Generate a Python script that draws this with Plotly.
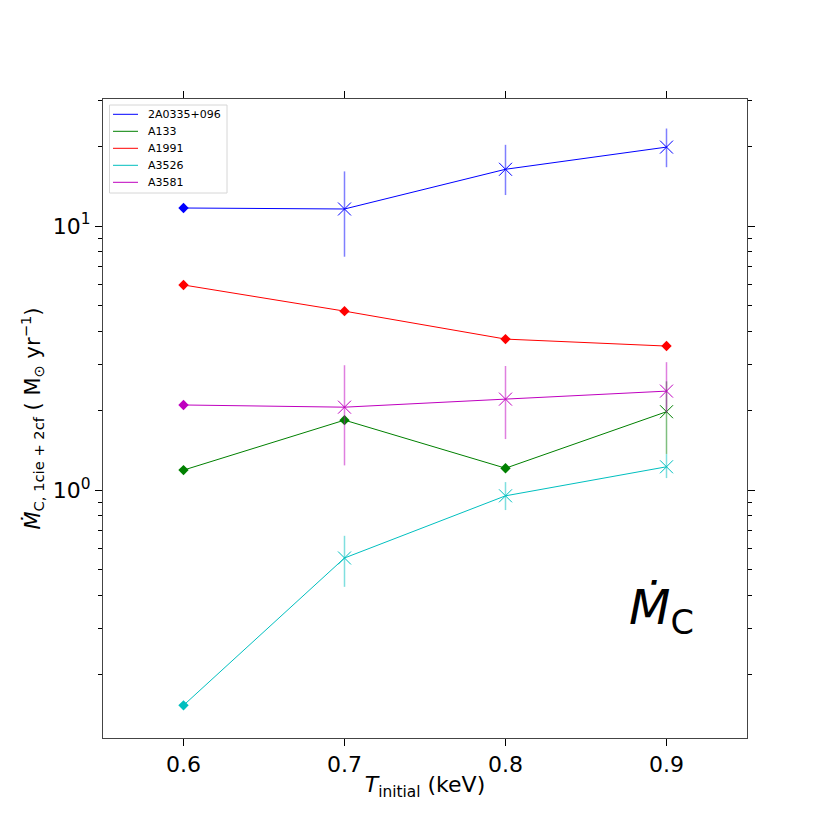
import plotly.graph_objects as go

# initial temperature (keV)
t_initial = [0.6, 0.7, 0.8, 0.9]

sources = ["2A0335+096", "A133", "A1991", "A3526", "A3581"]
colors = ["#0000ff", "#008000", "#ff0000", "#00bfbf", "#bf00bf"]
err_colors = ["rgba(0,0,255,0.5)", "rgba(0,128,0,0.5)", "rgba(255,0,0,0.5)",
              "rgba(0,191,191,0.5)", "rgba(191,0,191,0.5)"]

# mass deposition rates (Msun/yr) and errors (0 = no error bar)
mdot_2a0335 = [11.7, 11.6, 16.4, 19.9]
hi_2a0335 = [0, 4.5, 3.9, 3.5]
lo_2a0335 = [0, 3.95, 3.3, 3.2]

mdot_a133 = [1.19, 1.84, 1.21, 1.98]
hi_a133 = [0, 0, 0, 0.6]
lo_a133 = [0, 0, 0, 0.61]

mdot_a1991 = [5.98, 4.76, 3.73, 3.51]
hi_a1991 = [0, 0, 0, 0]
lo_a1991 = [0, 0, 0, 0]

mdot_a3526 = [0.153, 0.553, 0.951, 1.225]
hi_a3526 = [0, 0.118, 0.121, 0.144]
lo_a3526 = [0, 0.123, 0.111, 0.115]

mdot_a3581 = [2.10, 2.06, 2.21, 2.37]
hi_a3581 = [0, 0.91, 0.74, 0.68]
lo_a3581 = [0, 0.82, 0.65, 0.41]

values = [mdot_2a0335, mdot_a133, mdot_a1991, mdot_a3526, mdot_a3581]
err_hi = [hi_2a0335, hi_a133, hi_a1991, hi_a3526, hi_a3581]
err_lo = [lo_2a0335, lo_a133, lo_a1991, lo_a3526, lo_a3581]

fig = go.Figure()

for name, col, ecol, y, hi, lo in zip(sources, colors, err_colors, values, err_hi, err_lo):
    fig.add_trace(go.Scatter(
        x=t_initial, y=y, mode="lines", name=name, showlegend=False,
        line=dict(color=col, width=1),
    ))
    # points without error: filled diamonds
    xd = [x for x, h in zip(t_initial, hi) if h == 0]
    yd = [v for v, h in zip(y, hi) if h == 0]
    fig.add_trace(go.Scatter(
        x=xd, y=yd, mode="markers", showlegend=False,
        marker=dict(symbol="diamond", size=8, color=col, line=dict(width=0)),
    ))
    # points with error: x markers and error bars
    idx = [i for i, h in enumerate(hi) if h > 0]
    fig.add_trace(go.Scatter(
        x=[t_initial[i] for i in idx], y=[y[i] for i in idx], mode="markers", showlegend=False,
        marker=dict(symbol="x-thin", size=13, color=col, line=dict(color=col, width=1)),
        error_y=dict(type="data", symmetric=False,
                     array=[hi[i] for i in idx], arrayminus=[lo[i] for i in idx],
                     color=ecol, thickness=1.5, width=0),
    ))

# legend drawn by hand (matplotlib style)
shapes = [dict(type="rect", xref="paper", yref="paper",
               x0=(109.5 - 103) / 644, x1=(227 - 103) / 644,
               y0=(738 - 193) / 639, y1=(738 - 105) / 639,
               line=dict(color="#d6d6d6", width=1), fillcolor="rgba(255,255,255,0.8)",
               layer="above")]
annotations = []
for k, (name, col) in enumerate(zip(sources, colors)):
    py = 114.3 + 17 * k
    yp = (738 - py) / 639
    shapes.append(dict(type="line", xref="paper", yref="paper",
                       x0=(113 - 103) / 644, x1=(138 - 103) / 644, y0=yp, y1=yp,
                       line=dict(color=col, width=1), layer="above"))
    annotations.append(dict(x=(146 - 103) / 644, y=yp, xref="paper", yref="paper",
                            xanchor="left", yanchor="middle", showarrow=False,
                            text=name, font=dict(size=11, color="black")))

annotations.append(dict(
    x=0.921, y=0.147, xref="paper", yref="paper", showarrow=False,
    text="<i>Ṁ</i><sub>C</sub>", font=dict(size=48, color="black"),
))

minor_vals = [m * 10 ** e for e in (-1, 0, 1) for m in range(2, 10)]

fig.update_layout(
    width=830, height=830,
    margin=dict(l=95, r=91, t=91, b=100),
    paper_bgcolor="white", plot_bgcolor="white",
    font=dict(family="DejaVu Sans", color="black"),
    showlegend=False,
    xaxis=dict(
        range=[0.55, 0.95], tickvals=t_initial, ticktext=["0.6", "0.7", "0.8", "0.9"],
        ticks="outside", ticklen=7, tickwidth=1, tickcolor="black",
        showline=True, linecolor="#444", linewidth=1, mirror="ticks",
        showgrid=False, zeroline=False, tickfont=dict(size=22),
        title=dict(text="<i>T</i><sub>initial</sub> (keV)", font=dict(size=22), standoff=0),
    ),
    yaxis=dict(
        type="log", range=[-0.939, 1.481],
        tickvals=[1, 10], ticktext=["10<sup>0</sup>", "10<sup>1</sup>"],
        ticks="outside", ticklen=7, tickwidth=1, tickcolor="black",
        minor=dict(tickvals=minor_vals, ticks="outside", ticklen=4, tickcolor="black", showgrid=False),
        showline=True, linecolor="#444", linewidth=1, mirror="ticks",
        showgrid=False, zeroline=False, tickfont=dict(size=22),
        title=dict(text="<i>Ṁ</i><sub>C, 1cie + 2cf</sub> ( M<sub>⊙</sub> yr<sup>−1</sup>)",
                   font=dict(size=21), standoff=6),
    ),
    shapes=shapes,
    annotations=annotations,
)

fig.write_html("out.html")
